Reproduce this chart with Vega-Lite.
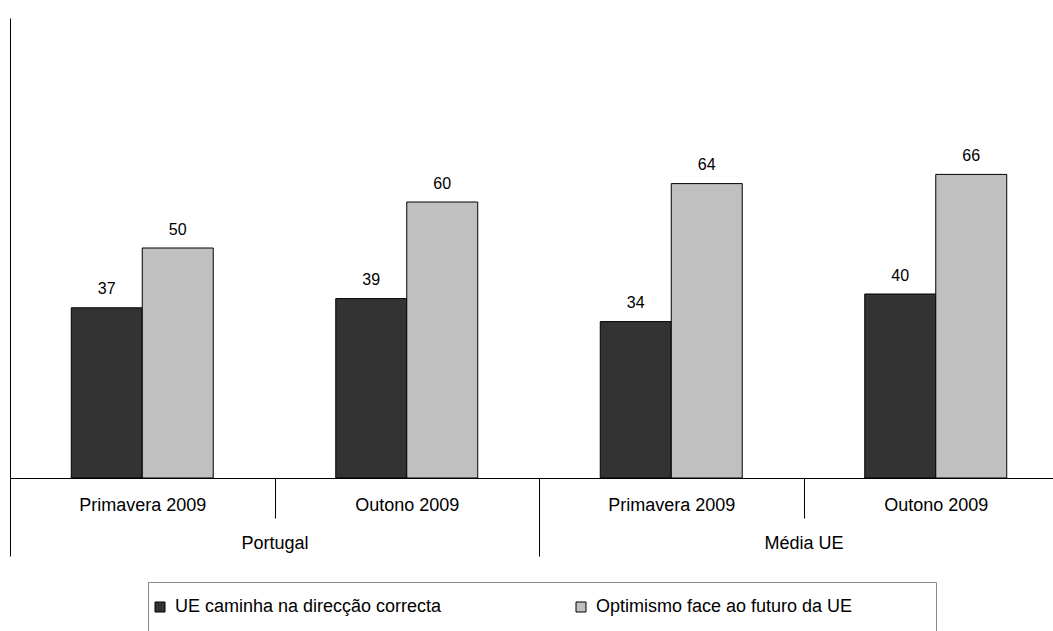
{
  "$schema": "https://vega.github.io/schema/vega-lite/v6.json",
  "width": 1043,
  "height": 460,
  "autosize": {"type": "none"},
  "padding": {"left": 10, "top": 18, "right": 0, "bottom": 153},
  "background": "white",
  "config": {"view": {"stroke": null}, "font": "Liberation Sans"},
  "datasets": {
    "bars": [
      {"cat": "Portugal|Primavera 2009", "series": "UE caminha na direcção correcta", "value": 37},
      {"cat": "Portugal|Primavera 2009", "series": "Optimismo face ao futuro da UE", "value": 50},
      {"cat": "Portugal|Outono 2009", "series": "UE caminha na direcção correcta", "value": 39},
      {"cat": "Portugal|Outono 2009", "series": "Optimismo face ao futuro da UE", "value": 60},
      {"cat": "Média UE|Primavera 2009", "series": "UE caminha na direcção correcta", "value": 34},
      {"cat": "Média UE|Primavera 2009", "series": "Optimismo face ao futuro da UE", "value": 64},
      {"cat": "Média UE|Outono 2009", "series": "UE caminha na direcção correcta", "value": 40},
      {"cat": "Média UE|Outono 2009", "series": "Optimismo face ao futuro da UE", "value": 66}
    ],
    "groups": [
      {"group": "Portugal"},
      {"group": "Média UE"}
    ]
  },
  "layer": [
    {
      "data": {"name": "bars"},
      "layer": [
        {
          "mark": {"type": "bar", "stroke": "black", "strokeWidth": 1},
          "encoding": {
            "x": {
              "field": "cat", "type": "nominal",
              "sort": ["Portugal|Primavera 2009", "Portugal|Outono 2009", "Média UE|Primavera 2009", "Média UE|Outono 2009"],
              "scale": {"range": [0, 1058], "paddingInner": 0, "paddingOuter": 0},
              "axis": {
                "orient": "bottom",
                "title": null, "domainColor": "black", "tickColor": "black", "tickBand": "extent",
                "tickSize": 40, "labelExpr": "split(datum.label, '|')[1]", "labelFontSize": 18,
                "labelColor": "black", "labelBaseline": "middle", "labelPadding": -13, "labelAngle": 0,
                "labelOverlap": false
              }
            },
            "xOffset": {
              "field": "series", "type": "nominal",
              "sort": ["UE caminha na direcção correcta", "Optimismo face ao futuro da UE"],
              "scale": {"paddingInner": 0, "paddingOuter": 0.863}
            },
            "y": {
              "field": "value", "type": "quantitative",
              "scale": {"domain": [0, 100]},
              "axis": {"title": null, "domain": true, "domainColor": "black", "ticks": false, "labels": false, "grid": false}
            },
            "color": {
              "field": "series", "type": "nominal",
              "sort": ["UE caminha na direcção correcta", "Optimismo face ao futuro da UE"],
              "scale": {"domain": ["UE caminha na direcção correcta", "Optimismo face ao futuro da UE"], "range": ["#333333", "#c0c0c0"]},
              "legend": {
                "orient": "none", "legendX": 138, "legendY": 564, "direction": "horizontal", "title": null,
                "symbolType": "square", "symbolSize": 100, "symbolStrokeColor": "black", "symbolStrokeWidth": 1,
                "symbolOpacity": 1,
                "labelFontSize": 18, "labelColor": "black", "labelOffset": 6, "labelLimit": 800,
                "columnPadding": 130, "padding": 3, "clipHeight": 44,
                "strokeColor": "#888888", "fillColor": "white",
                "labelExpr": "datum.label == 'Optimismo face ao futuro da UE' ? datum.label + '\u00a0\u00a0\u00a0\u00a0\u00a0\u00a0\u00a0\u00a0\u00a0\u00a0\u00a0\u00a0\u00a0\u00a0\u00a0\u00a0\u200b' : datum.label"
              }
            }
          }
        },
        {
          "mark": {"type": "text", "dy": -13.5, "fontSize": 16, "color": "black", "baseline": "alphabetic"},
          "encoding": {
            "x": {"field": "cat", "type": "nominal", "sort": ["Portugal|Primavera 2009", "Portugal|Outono 2009", "Média UE|Primavera 2009", "Média UE|Outono 2009"]},
            "xOffset": {"field": "series", "type": "nominal", "sort": ["UE caminha na direcção correcta", "Optimismo face ao futuro da UE"]},
            "y": {"field": "value", "type": "quantitative"},
            "text": {"field": "value", "type": "quantitative"}
          }
        }
      ]
    },
    {
      "data": {"name": "groups"},
      "mark": {"type": "point", "opacity": 0},
      "encoding": {
        "x": {
          "field": "group", "type": "nominal", "sort": ["Portugal", "Média UE"],
          "scale": {"range": [0, 1058], "paddingInner": 0, "paddingOuter": 0},
          "axis": {
            "orient": "bottom",
            "title": null, "domain": false, "tickColor": "black", "tickBand": "extent", "tickSize": 78,
            "labelFontSize": 18, "labelColor": "black", "labelBaseline": "middle", "labelPadding": -13,
            "labelAngle": 0, "labelOverlap": false
          }
        }
      }
    }
  ],
  "resolve": {"scale": {"x": "independent"}}
}
